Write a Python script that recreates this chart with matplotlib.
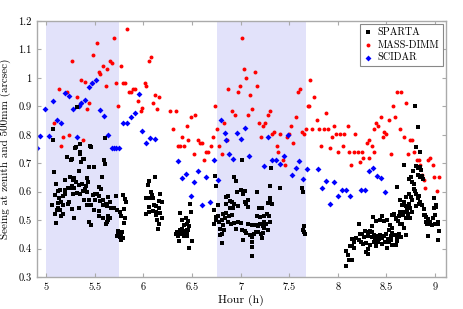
import numpy as np
import matplotlib
matplotlib.use("Agg")
import matplotlib.pyplot as plt
from matplotlib.ticker import FuncFormatter, MultipleLocator

plt.rcParams['font.family'] = 'serif'
plt.rcParams['font.serif'] = ['cmr10', 'DejaVu Serif']
plt.rcParams['mathtext.fontset'] = 'cm'
plt.rcParams['axes.formatter.use_mathtext'] = True

# -------------------------
# Data (hour, seeing in arcsec)
# -------------------------

# shaded time windows
windows = [(5.0, 5.75), (6.755, 7.67)]

# MASS-DIMM
mass_dimm = np.array([
    (5.826, 1.171), (5.696, 1.142), (5.517, 1.122), (5.476, 1.082), (5.26, 1.061),
    (5.655, 1.061), (5.675, 1.052), (5.586, 1.042), (5.627, 1.031), (5.764, 1.042),
    (5.538, 1.022), (5.558, 1.014), (5.353, 0.991), (5.398, 0.984), (5.473, 0.982),
    (5.61, 0.972), (5.717, 0.982), (5.785, 0.982), (5.805, 0.982), (5.127, 0.962),
    (5.216, 0.952), (5.312, 0.932), (5.353, 0.913), (5.442, 0.911), (5.332, 0.902),
    (5.421, 0.89), (5.74, 0.902), (5.079, 0.841), (5.38, 0.78), (5.236, 0.80),
    (5.172, 0.792), (5.147, 0.761), (5.853, 0.952), (5.874, 0.952), (5.895, 0.961),
    (5.918, 0.961), (6.011, 0.982), (6.031, 0.972), (6.052, 1.061), (6.08, 1.072),
    (5.943, 0.92), (5.99, 0.893), (5.97, 0.882), (6.12, 0.941), (6.16, 0.932),
    (6.10, 0.911), (6.14, 0.89), (6.278, 0.882), (6.30, 0.822), (6.333, 0.882),
    (6.488, 0.861), (6.535, 0.871), (6.443, 0.831), (6.40, 0.792), (6.463, 0.782),
    (6.357, 0.761), (6.375, 0.761), (6.42, 0.761), (6.56, 0.782), (6.58, 0.772),
    (6.60, 0.772), (6.69, 0.761), (6.717, 0.792), (6.738, 0.902), (6.76, 0.822),
    (6.78, 0.761), (6.827, 0.841), (6.861, 0.782), (6.916, 0.882), (6.946, 0.871),
    (6.871, 0.962), (6.971, 0.952), (6.992, 0.972), (7.012, 1.142), (7.033, 1.032),
    (7.057, 1.001), (7.146, 1.021), (7.17, 0.972), (7.101, 0.941), (7.12, 0.891),
    (7.08, 0.871), (7.19, 0.841), (7.21, 0.792), (7.234, 0.831), (7.255, 0.841),
    (7.28, 0.871), (7.30, 0.882), (7.32, 0.802), (7.344, 0.811), (7.37, 0.761),
    (7.41, 0.802), (7.478, 0.792), (7.50, 0.802), (7.52, 0.831), (7.54, 0.772),
    (7.568, 0.861), (7.588, 0.952), (7.608, 0.962), (7.63, 0.811), (7.656, 0.802),
    (7.677, 0.822), (7.69, 0.902), (7.718, 0.993), (7.756, 0.932), (7.704, 0.902),
    (7.787, 0.852), (7.738, 0.822), (7.807, 0.822), (7.855, 0.822), (7.896, 0.822),
    (7.876, 0.877), (7.83, 0.761), (7.917, 0.753), (7.937, 0.792), (7.965, 0.831),
    (7.985, 0.802), (8.026, 0.802), (8.067, 0.802), (8.054, 0.761), (8.10, 0.831),
    (8.18, 0.802), (8.30, 0.772), (8.32, 0.782), (8.35, 0.761), (8.37, 0.822),
    (8.39, 0.841), (8.41, 0.831), (8.44, 0.862), (8.46, 0.792), (8.48, 0.811),
    (8.50, 0.802), (8.53, 0.852), (8.57, 0.902), (8.59, 0.862), (8.61, 0.952),
    (8.65, 0.952), (8.637, 0.822), (8.678, 0.792), (8.70, 0.911), (8.746, 0.782),
    (8.767, 0.782), (8.005, 0.741), (8.116, 0.741), (8.164, 0.741), (8.212, 0.741),
    (8.253, 0.741), (8.371, 0.739), (8.232, 0.704), (8.32, 0.718), (8.134, 0.692),
    (8.263, 0.72), (8.548, 0.732), (8.725, 0.732), (8.787, 0.741), (8.815, 0.712),
    (8.835, 0.712), (8.93, 0.712), (8.95, 0.72), (8.85, 0.692), (8.98, 0.692),
    (8.863, 0.659), (8.883, 0.642), (8.993, 0.651), (9.04, 0.651), (8.90, 0.612),
    (9.017, 0.603), (6.52, 0.732), (6.642, 0.741), (6.662, 0.741), (6.628, 0.712),
    (6.807, 0.732), (7.389, 0.741), (7.437, 0.712), (7.458, 0.692),
])

# SCIDAR
scidar = np.array([
    (4.905, 0.755), (4.94, 0.794), (4.983, 0.892), (5.024, 0.794), (5.069, 0.918),
    (5.106, 0.852), (5.147, 0.841), (5.195, 0.946), (5.233, 0.937), (5.278, 0.891),
    (5.312, 0.792), (5.339, 0.902), (5.353, 0.911), (5.394, 0.923), (5.435, 0.967),
    (5.473, 0.982), (5.514, 0.993), (5.555, 0.888), (5.593, 0.866), (5.634, 0.799),
    (5.675, 0.754), (5.70, 0.752), (5.717, 0.754), (5.751, 0.752), (5.792, 0.841),
    (5.833, 0.841), (5.874, 0.861), (5.915, 0.876), (5.953, 0.944), (5.99, 0.815),
    (6.031, 0.770), (6.072, 0.789), (6.114, 0.784), (6.354, 0.708), (6.395, 0.647),
    (6.436, 0.661), (6.485, 0.585), (6.518, 0.633), (6.56, 0.673), (6.607, 0.553),
    (6.642, 0.652), (6.683, 0.563), (6.724, 0.712), (6.766, 0.642), (6.803, 0.852),
    (6.84, 0.806), (6.854, 0.782), (6.882, 0.734), (6.923, 0.715), (6.964, 0.806),
    (7.005, 0.784), (7.043, 0.825), (7.087, 0.725), (7.245, 0.689), (7.286, 0.792),
    (7.327, 0.713), (7.368, 0.713), (7.403, 0.697), (7.447, 0.726), (7.485, 0.799),
    (7.527, 0.659), (7.568, 0.682), (7.602, 0.708), (7.64, 0.646), (7.684, 0.678),
    (7.80, 0.678), (7.841, 0.612), (7.882, 0.638), (7.917, 0.556), (7.958, 0.633),
    (7.999, 0.586), (8.04, 0.605), (8.082, 0.605), (8.123, 0.584), (8.24, 0.605),
    (8.28, 0.605), (8.32, 0.671), (8.362, 0.682), (8.403, 0.654), (8.445, 0.647),
    (8.486, 0.598),
])

# SPARTA, first block (5.0 - 5.85 h)
sparta_a = np.array([
    (5.319, 0.897), (5.069, 0.82), (5.072, 0.78), (5.346, 0.766), (5.305, 0.756),
    (5.456, 0.758), (5.607, 0.787), (5.213, 0.723), (5.26, 0.714), (5.35, 0.733),
    (5.39, 0.714), (5.298, 0.755), (5.346, 0.739), (5.449, 0.76), (5.209, 0.723),
    (5.257, 0.711), (5.38, 0.715), (5.36, 0.704), (5.442, 0.687), (5.49, 0.685),
    (5.593, 0.711), (5.60, 0.699), (5.332, 0.673), (5.079, 0.668), (5.243, 0.652),
    (5.188, 0.640), (5.27, 0.642), (5.29, 0.647), (5.42, 0.647), (5.43, 0.635),
    (5.573, 0.652), (5.10, 0.626), (5.31, 0.633), (5.34, 0.624), (5.37, 0.626),
    (5.41, 0.621), (5.243, 0.614), (5.264, 0.619), (5.29, 0.612), (5.195, 0.605),
    (5.223, 0.614), (5.12, 0.603), (5.14, 0.605), (5.373, 0.603), (5.394, 0.61),
    (5.414, 0.60), (5.545, 0.617), (5.566, 0.61), (5.483, 0.589), (5.504, 0.593),
    (5.524, 0.591), (5.545, 0.586), (5.278, 0.591), (5.319, 0.596), (5.346, 0.593),
    (5.64, 0.581), (5.717, 0.584), (5.792, 0.589), (5.175, 0.586), (5.195, 0.591),
    (5.093, 0.589), (5.134, 0.579), (5.387, 0.572), (5.435, 0.57), (5.504, 0.57),
    (5.552, 0.567), (5.579, 0.57), (5.236, 0.565), (5.223, 0.556), (5.12, 0.56),
    (5.154, 0.565), (5.168, 0.553), (5.058, 0.553), (5.42, 0.553), (5.463, 0.553),
    (5.586, 0.553), (5.614, 0.558), (5.627, 0.549), (5.655, 0.565), (5.668, 0.542),
    (5.812, 0.574), (5.82, 0.563), (5.80, 0.539), (5.12, 0.544), (5.14, 0.535),
    (5.106, 0.537), (5.264, 0.539), (5.332, 0.542), (5.49, 0.535), (5.545, 0.532),
    (5.70, 0.544), (5.73, 0.535), (5.758, 0.528), (5.085, 0.521), (5.168, 0.521),
    (5.147, 0.514), (5.284, 0.509), (5.545, 0.516), (5.579, 0.507), (5.634, 0.516),
    (5.655, 0.507), (5.64, 0.50), (5.614, 0.485), (5.62, 0.492), (5.812, 0.509),
    (5.771, 0.516), (5.10, 0.49), (5.435, 0.492), (5.463, 0.483), (5.80, 0.49),
    (5.737, 0.462), (5.758, 0.457), (5.778, 0.459), (5.743, 0.45), (5.771, 0.448),
    (5.758, 0.441), (5.785, 0.438), (5.771, 0.431), (5.73, 0.445),
])

# SPARTA, second block (6.0 - 6.5 h)
sparta_b = np.array([
    (6.114, 0.652), (6.06, 0.638), (6.046, 0.624), (6.08, 0.598), (6.093, 0.589),
    (6.175, 0.593), (6.031, 0.579), (6.06, 0.577), (6.10, 0.579), (6.16, 0.567),
    (6.19, 0.563), (6.052, 0.546), (6.107, 0.553), (6.134, 0.549), (6.031, 0.523),
    (6.052, 0.528), (6.10, 0.532), (6.128, 0.528), (6.16, 0.542), (6.175, 0.525),
    (6.196, 0.509), (6.134, 0.518), (6.14, 0.502), (6.155, 0.488), (6.149, 0.469),
    (6.38, 0.524), (6.49, 0.53), (6.478, 0.556), (6.435, 0.507), (6.40, 0.50),
    (6.463, 0.497), (6.47, 0.481), (6.42, 0.483), (6.443, 0.485), (6.375, 0.464),
    (6.40, 0.469), (6.42, 0.462), (6.443, 0.464), (6.463, 0.466), (6.347, 0.457),
    (6.368, 0.452), (6.388, 0.457), (6.409, 0.45), (6.43, 0.448), (6.45, 0.455),
    (6.34, 0.45), (6.354, 0.445), (6.368, 0.427), (6.416, 0.443), (6.45, 0.445),
    (6.498, 0.427), (6.47, 0.403),
])

# SPARTA, third block (6.7 - 7.7 h)
sparta_c = np.array([
    (6.738, 0.654), (6.751, 0.619), (6.936, 0.652), (6.95, 0.638), (6.731, 0.535),
    (6.766, 0.553), (6.745, 0.511), (6.766, 0.516), (6.751, 0.50), (6.724, 0.488),
    (6.779, 0.495), (6.854, 0.581), (6.874, 0.586), (6.848, 0.556), (6.895, 0.567),
    (6.916, 0.563), (6.936, 0.558), (6.964, 0.598), (7.005, 0.607), (7.026, 0.593),
    (7.046, 0.603), (6.889, 0.544), (6.923, 0.542), (6.977, 0.549), (7.04, 0.563),
    (7.054, 0.556), (7.074, 0.546), (7.08, 0.572), (6.82, 0.523), (6.854, 0.525),
    (6.882, 0.514), (6.909, 0.518), (6.807, 0.50), (6.84, 0.507), (6.868, 0.492),
    (6.902, 0.488), (6.82, 0.483), (6.792, 0.469), (6.833, 0.464), (6.813, 0.45),
    (6.786, 0.448), (6.813, 0.42), (6.936, 0.49), (6.977, 0.495), (7.005, 0.49),
    (6.957, 0.469), (7.012, 0.466), (7.04, 0.462), (7.054, 0.455), (7.026, 0.431),
    (7.08, 0.488), (7.115, 0.483), (7.10, 0.448), (7.12, 0.441), (7.136, 0.452),
    (7.115, 0.424), (7.12, 0.406), (7.115, 0.375), (7.162, 0.483), (7.183, 0.478),
    (7.204, 0.488), (7.231, 0.481), (7.156, 0.459), (7.183, 0.457), (7.21, 0.452),
    (7.231, 0.455), (7.17, 0.598), (7.19, 0.542), (7.217, 0.544), (7.17, 0.516),
    (7.204, 0.511), (7.245, 0.514), (7.273, 0.521), (7.293, 0.514), (7.238, 0.495),
    (7.265, 0.488), (7.30, 0.492), (7.245, 0.471), (7.286, 0.466), (7.224, 0.436),
    (7.30, 0.577), (7.307, 0.565), (7.32, 0.558), (7.28, 0.56), (7.307, 0.619),
    (7.41, 0.614), (7.314, 0.682), (7.019, 0.711), (7.63, 0.614), (7.637, 0.598),
    (7.643, 0.466), (7.65, 0.457), (7.656, 0.478), (7.663, 0.45),
])

# SPARTA, fourth block (8.0 - 9.05 h)
sparta_d = np.array([
    (8.219, 0.488), (8.088, 0.391), (8.10, 0.377), (8.129, 0.408), (8.15, 0.41),
    (8.17, 0.401), (8.116, 0.359), (8.088, 0.34), (8.143, 0.361), (8.15, 0.434),
    (8.185, 0.436), (8.17, 0.422), (8.232, 0.45), (8.253, 0.452), (8.273, 0.441),
    (8.24, 0.424), (8.26, 0.415), (8.22, 0.431), (8.28, 0.462), (8.308, 0.457),
    (8.335, 0.462), (8.356, 0.457), (8.315, 0.445), (8.35, 0.441), (8.37, 0.448),
    (8.383, 0.436), (8.41, 0.443), (8.438, 0.448), (8.458, 0.438), (8.479, 0.445),
    (8.50, 0.45), (8.52, 0.434), (8.548, 0.445), (8.562, 0.455), (8.59, 0.448),
    (8.61, 0.436), (8.294, 0.42), (8.308, 0.399), (8.335, 0.413), (8.37, 0.422),
    (8.39, 0.408), (8.41, 0.424), (8.42, 0.434), (8.308, 0.382), (8.287, 0.387),
    (8.35, 0.478), (8.362, 0.511), (8.39, 0.497), (8.43, 0.502), (8.458, 0.514),
    (8.479, 0.497), (8.506, 0.502), (8.54, 0.483), (8.527, 0.464), (8.562, 0.471),
    (8.45, 0.415), (8.486, 0.422), (8.506, 0.401), (8.527, 0.422), (8.56, 0.413),
    (8.548, 0.429), (8.61, 0.427), (8.596, 0.413), (8.63, 0.45), (8.65, 0.441),
    (8.70, 0.448), (8.685, 0.473), (8.664, 0.488), (8.616, 0.497), (8.637, 0.485),
    (8.596, 0.504), (8.555, 0.518), (8.58, 0.523), (8.60, 0.507), (8.63, 0.516),
    (8.643, 0.53), (8.67, 0.518), (8.685, 0.53), (8.712, 0.535), (8.726, 0.521),
    (8.705, 0.509), (8.746, 0.509), (8.61, 0.617), (8.637, 0.57), (8.658, 0.553),
    (8.678, 0.565), (8.70, 0.581), (8.705, 0.551), (8.72, 0.542), (8.733, 0.558),
    (8.76, 0.570), (8.733, 0.591), (8.754, 0.581), (8.781, 0.61), (8.795, 0.603),
    (8.80, 0.591), (8.82, 0.577), (8.836, 0.586), (8.85, 0.565), (8.836, 0.556),
    (8.808, 0.549), (8.746, 0.544), (8.767, 0.53), (8.685, 0.692), (8.733, 0.643),
    (8.754, 0.652), (8.768, 0.635), (8.788, 0.626), (8.775, 0.671), (8.802, 0.689),
    (8.823, 0.682), (8.843, 0.685), (8.829, 0.659), (8.85, 0.65), (8.87, 0.655),
    (8.857, 0.676), (8.878, 0.643), (8.843, 0.739), (8.80, 0.756), (8.794, 0.902),
    (8.822, 0.829), (8.863, 0.553), (8.884, 0.539), (8.897, 0.518), (8.911, 0.511),
    (8.931, 0.504), (8.904, 0.495), (8.918, 0.488), (8.938, 0.485), (8.952, 0.492),
    (8.972, 0.483), (9.0, 0.488), (9.026, 0.485), (8.979, 0.507), (8.986, 0.542),
    (9.007, 0.553), (8.993, 0.576), (9.013, 0.546), (9.0, 0.518), (9.026, 0.492),
    (9.04, 0.462), (9.026, 0.429), (8.931, 0.445), (8.89, 0.518),
])

sparta = np.vstack([sparta_a, sparta_b, sparta_c, sparta_d])

# -------------------------
# Plot
# -------------------------

fig = plt.figure(figsize=(4.63, 3.09), dpi=100)
ax = fig.add_axes([0.08, 0.1036, 0.8826, 0.8284])

for t0, t1 in windows:
    ax.axvspan(t0, t1, color='#e2e2fa', lw=0, zorder=0)

ax.scatter(sparta[:, 0], sparta[:, 1], s=5, marker='s', color='black',
           lw=0, label='SPARTA', zorder=3)
ax.scatter(mass_dimm[:, 0], mass_dimm[:, 1], s=8, marker='o', color='#ff0000',
           lw=0, label='MASS-DIMM', zorder=2)
ax.scatter(scidar[:, 0], scidar[:, 1], s=9, marker='D', color='#0000ff',
           lw=0, label='SCIDAR', zorder=2)

ax.set_xlim(4.905, 9.11)
ax.set_ylim(0.3, 1.2)
ax.xaxis.set_major_locator(MultipleLocator(0.5))
ax.yaxis.set_major_locator(MultipleLocator(0.1))
fmt = FuncFormatter(lambda v, p: '%g' % round(v, 2))
ax.xaxis.set_major_formatter(fmt)
ax.yaxis.set_major_formatter(fmt)

ax.tick_params(direction='in', top=True, right=True, length=3, width=0.8,
               color='#aaaaaa', labelsize=7.5, pad=4)
for sp in ax.spines.values():
    sp.set_color('#aaaaaa')
    sp.set_linewidth(1.0)

ax.set_xlabel('Hour (h)', fontsize=8.5, labelpad=2)
ax.set_ylabel('Seeing at zenith and 500mm (arcsec)', fontsize=8, labelpad=5)

leg = ax.legend(loc='upper right', fontsize=7.3, fancybox=False, framealpha=1,
                edgecolor='#888888', borderaxespad=0.3, handletextpad=0.4,
                handlelength=1.0, borderpad=0.35, labelspacing=0.3,
                markerscale=1.0)
leg.get_frame().set_linewidth(0.8)

plt.savefig('out.png', dpi=100)
